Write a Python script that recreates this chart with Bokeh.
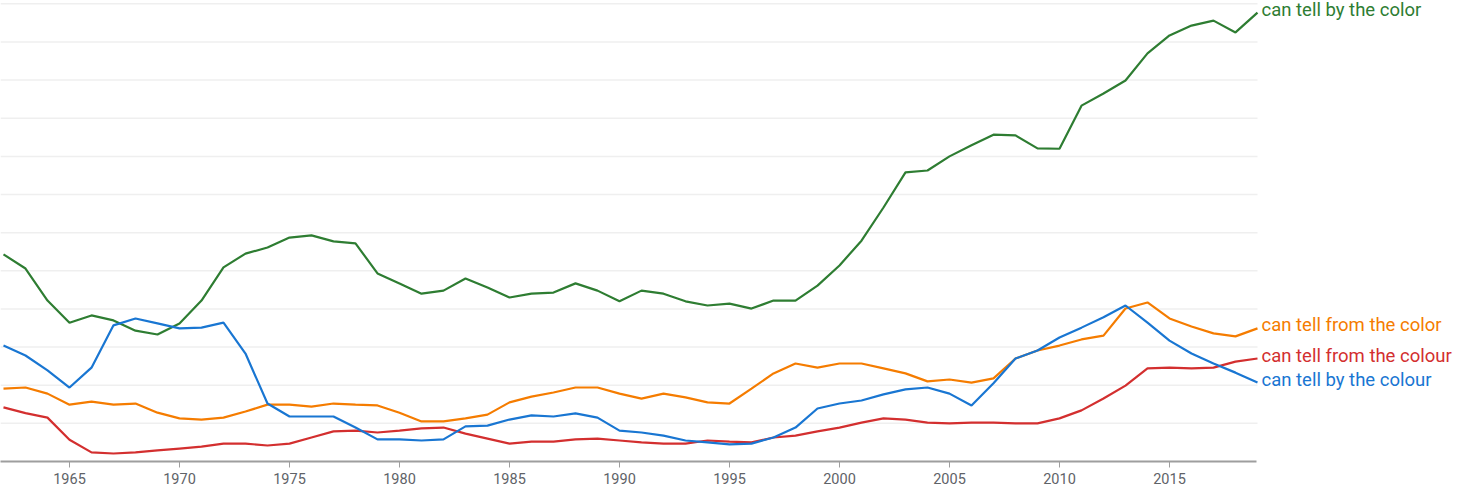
from bokeh.plotting import figure
from bokeh.models import Label, Range1d, SingleIntervalTicker
from bokeh.embed import file_html
from bokeh.resources import INLINE

years = list(range(1962, 2020))

can_tell_by_the_color = [
    5.43, 5.06, 4.22, 3.64, 3.83, 3.70, 3.43, 3.33, 3.62, 4.22,
    5.09, 5.45, 5.61, 5.87, 5.93, 5.77, 5.72, 4.93, 4.67, 4.40,
    4.48, 4.80, 4.56, 4.30, 4.40, 4.43, 4.67, 4.48, 4.20, 4.48,
    4.40, 4.20, 4.09, 4.14, 4.01, 4.22, 4.22, 4.61, 5.14, 5.79,
    6.66, 7.58, 7.63, 8.00, 8.29, 8.57, 8.55, 8.21, 8.20, 9.33,
    9.65, 9.99, 10.70, 11.17, 11.43, 11.56, 11.25, 11.77]

can_tell_from_the_color = [
    1.91, 1.94, 1.78, 1.49, 1.57, 1.49, 1.52, 1.28, 1.13, 1.10,
    1.15, 1.31, 1.49, 1.49, 1.44, 1.52, 1.49, 1.47, 1.28, 1.05,
    1.05, 1.13, 1.23, 1.55, 1.70, 1.81, 1.94, 1.94, 1.78, 1.65,
    1.78, 1.68, 1.55, 1.52, 1.91, 2.31, 2.57, 2.46, 2.57, 2.57,
    2.44, 2.31, 2.10, 2.15, 2.07, 2.18, 2.70, 2.91, 3.04, 3.20,
    3.30, 4.01, 4.17, 3.75, 3.54, 3.36, 3.28, 3.49]

can_tell_from_the_colour = [
    1.42, 1.27, 1.15, 0.57, 0.24, 0.21, 0.24, 0.29, 0.34, 0.39,
    0.47, 0.47, 0.42, 0.47, 0.63, 0.79, 0.81, 0.76, 0.81, 0.87,
    0.89, 0.73, 0.60, 0.47, 0.52, 0.52, 0.58, 0.60, 0.55, 0.50,
    0.47, 0.47, 0.55, 0.52, 0.50, 0.63, 0.68, 0.79, 0.89, 1.02,
    1.13, 1.10, 1.02, 1.00, 1.02, 1.02, 1.00, 1.00, 1.13, 1.34,
    1.65, 1.99, 2.44, 2.46, 2.44, 2.46, 2.62, 2.70]

can_tell_by_the_colour = [
    3.04, 2.78, 2.39, 1.94, 2.46, 3.57, 3.75, 3.62, 3.49, 3.51,
    3.64, 2.83, 1.52, 1.18, 1.18, 1.18, 0.89, 0.58, 0.58, 0.55,
    0.58, 0.92, 0.94, 1.10, 1.21, 1.18, 1.26, 1.15, 0.81, 0.76,
    0.68, 0.55, 0.50, 0.45, 0.47, 0.63, 0.89, 1.39, 1.52, 1.60,
    1.76, 1.89, 1.94, 1.78, 1.47, 2.05, 2.70, 2.91, 3.25, 3.51,
    3.78, 4.09, 3.64, 3.17, 2.83, 2.57, 2.33, 2.07]

grid_levels = list(range(0, 13))

series = [
    ("can tell by the color", can_tell_by_the_color, "#2e7d32"),
    ("can tell from the color", can_tell_from_the_color, "#f57c00"),
    ("can tell from the colour", can_tell_from_the_colour, "#d32f2f"),
    ("can tell by the colour", can_tell_by_the_colour, "#1976d2"),
]

X0 = 1961.864
X1 = X0 + 1457 / 22.0
p = figure(width=1457, height=488, output_backend="svg", toolbar_location=None,
           title=None,
           x_range=Range1d(X0, X1), y_range=Range1d(0, 12.087),
           min_border_left=0, min_border_top=0, min_border_right=0,
           min_border_bottom=27)
p.outline_line_color = None
p.background_fill_color = "white"
p.border_fill_color = "white"

p.yaxis.visible = False
p.ygrid.visible = False
p.xgrid.visible = False

# horizontal grid lines, stopping at the end of the data
levels = grid_levels[1:]
p.segment(x0=[X0] * len(levels), x1=[years[-1]] * len(levels),
          y0=levels, y1=levels, line_color="#efefef", line_width=1.5)

ax = p.xaxis[0]
ax.bounds = (X0, years[-1] - 0.05)
ax.ticker = SingleIntervalTicker(interval=5)
ax.axis_line_color = "#9e9e9e"
ax.axis_line_width = 2
ax.major_tick_line_color = "#9e9e9e"
ax.major_tick_line_width = 1
ax.major_tick_in = 0
ax.major_tick_out = 6
ax.minor_tick_line_color = None
ax.major_label_text_font = "Roboto"
ax.major_label_text_font_size = "14.5px"
ax.major_label_text_color = "#5f6368"
ax.major_label_standoff = 5

for name, vals, color in series:
    p.line(years, vals, line_color=color, line_width=2.2)
    p.add_layout(Label(x=years[-1], y=vals[-1], text=name, x_offset=4, y_offset=3,
                       text_baseline="middle", text_align="left",
                       text_font="Roboto", text_font_size="18.5px",
                       text_color=color))

open("out.html", "w").write(file_html(p, INLINE))
